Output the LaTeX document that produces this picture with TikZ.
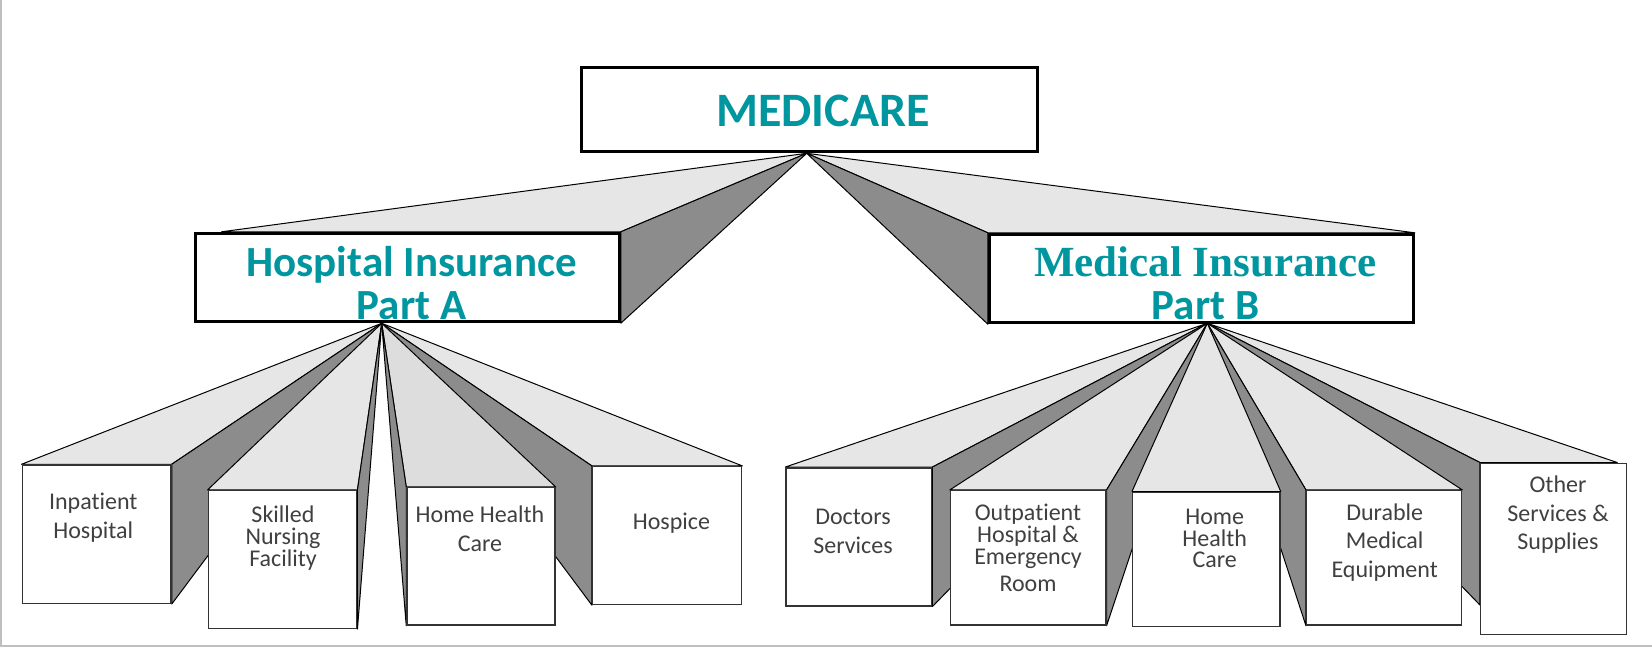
\documentclass[tikz,border=0pt]{standalone}
\usepackage{fontspec}
\setmainfont{Carlito}[Ligatures=CommonOff]
\newfontfamily\timesfont{Liberation Serif}
\usepackage{tikz}
\usetikzlibrary{calc, backgrounds}

\definecolor{medteal}{HTML}{00969F}
\definecolor{facelight}{HTML}{E6E6E6}
\definecolor{facemid}{HTML}{DDDDDD}
\definecolor{facedark}{HTML}{8C8C8C}
\definecolor{boxtext}{HTML}{404040}

\begin{document}
\begin{tikzpicture}[x=0.5pt, y=-0.5pt,
  mainbox/.style={draw, line width=1.5pt, fill=white, inner sep=0pt},
  subbox/.style={draw=black!80, line width=0.75pt, fill=white, inner sep=0pt},
  title/.style={text=medteal, font=\bfseries\fontsize{21.5}{21.7}\selectfont, align=center, inner sep=0pt},
  item/.style={text=boxtext, font=\fontsize{12}{14.5}\selectfont, align=center, inner sep=0pt},
  topface/.style={fill=facelight, draw=black, line width=0.5pt, line join=round},
  sideface/.style={fill=facedark, draw=black, line width=0.5pt, line join=round}]
\useasboundingbox (0,0) rectangle (1652,647);
\draw[black!25, line width=1pt] (0.5,0) -- (0.5,646) -- (1652,646);

% vanishing points under each parent box
\coordinate (vmed) at (806.7,153.3);
\coordinate (va) at (381.7,323.3);
\coordinate (vb) at (1207.3,323.3);

% top level
\node[mainbox, minimum width=227.8pt, minimum height=42.15pt] (medicare) at (809.5,109.55) {};
\node[title, font=\bfseries\fontsize{24}{24}\selectfont] (medicaretext) at (823,110.6) {MEDICARE};
\node[mainbox, minimum width=212.15pt, minimum height=44.2pt] (parta) at (407.15,277.5) {};
\node[title] (partatext) at (411.5,283.2) {Hospital Insurance\\Part A};
\node[mainbox, minimum width=212pt, minimum height=44.2pt] (partb) at (1201.3,278.5) {};
\node[title] (partbtext) at (1205.5,283.2) {{\timesfont Medical Insurance}\\Part B};

% part A services
\node[subbox, minimum width=74.35pt, minimum height=69.15pt] (a1) at (96.65,534.15) {};
\node[subbox, minimum width=74.2pt, minimum height=68.8pt] (a2) at (282.5,559.5) {};
\node[subbox, minimum width=74pt, minimum height=68.65pt] (a3) at (481,556.35) {};
\node[subbox, minimum width=74.5pt, minimum height=68.9pt] (a4) at (667.2,535.6) {};
\node[item] (a1text) at (93.3,517.7) {Inpatient\\Hospital};
\node[item, font=\fontsize{12}{11}\selectfont] (a2text) at (283,538) {Skilled\\Nursing\\Facility};
\node[item] (a3text) at (480,529) {Home Health\\Care};
\node[item] (a4text) at (671.4,523) {Hospice};

% part B services
\node[subbox, minimum width=72.85pt, minimum height=69pt] (b1) at (858.85,536.8) {};
\node[subbox, minimum width=77.65pt, minimum height=67.15pt] (b2) at (1028.15,557.85) {};
\node[subbox, minimum width=73.65pt, minimum height=67.2pt] (b3) at (1206.35,559.5) {};
\node[subbox, minimum width=77.45pt, minimum height=67.15pt] (b4) at (1384.15,557.85) {};
\node[subbox, minimum width=72.95pt, minimum height=85.5pt] (b5) at (1553.65,548.8) {};
\node[item] (b1text) at (853,531.5) {Doctors\\Services};
\node[item, font=\fontsize{12}{11}\selectfont] (b2text) at (1028,548) {Outpatient\\Hospital \&\\Emergency\\[2.7pt]Room};
\node[item, font=\fontsize{12}{10.85}\selectfont] (b3text) at (1214.7,538.4) {Home\\Health\\Care};
\node[item, font=\fontsize{12}{14.15}\selectfont] (b4text) at (1384.7,542.4) {Durable\\Medical\\Equipment};
\node[item, font=\fontsize{12}{14.15}\selectfont] (b5text) at (1558,514.7) {Other\\Services \&\\Supplies};

\begin{scope}[on background layer]
% extrusions of the two parts
\filldraw[topface] ($(parta.north west)+(28,0)$) -- (vmed) -- (parta.north east) -- cycle;
\filldraw[sideface] (parta.north east) -- (vmed) -- (parta.south east) -- cycle;
\filldraw[topface] (partb.north west) -- (vmed) -- (partb.north east) -- cycle;
\filldraw[sideface] (partb.north west) -- (vmed) -- (partb.south west) -- cycle;

% part A, outer boxes first
\filldraw[topface] (a1.north west) -- (va) -- (a1.north east) -- cycle;
\filldraw[sideface] (a1.north east) -- (va) -- (a1.south east) -- cycle;
\filldraw[topface] (a4.north east) -- (va) -- (a4.north west) -- cycle;
\filldraw[sideface] (a4.north west) -- (va) -- (a4.south west) -- cycle;
\filldraw[topface] (a2.north west) -- (va) -- (a2.north east) -- cycle;
\filldraw[sideface] (a2.north east) -- (va) -- (a2.south east) -- cycle;
\filldraw[topface, fill=facemid] (a3.north west) -- (va) -- (a3.north east) -- cycle;
\filldraw[sideface] (a3.north west) -- (va) -- (a3.south west) -- cycle;

% part B, outer boxes first
\filldraw[topface] (b1.north west) -- (vb) -- (b1.north east) -- cycle;
\filldraw[sideface] (b1.north east) -- (vb) -- (b1.south east) -- cycle;
\filldraw[topface] (b5.north west) -- (vb) -- ($(b5.north east)+(-10,0)$) -- cycle;
\filldraw[sideface] (b5.north west) -- (vb) -- ($(b5.south west)+(0,-30)$) -- cycle;
\filldraw[topface] (b2.north west) -- (vb) -- (b2.north east) -- cycle;
\filldraw[sideface] (b2.north east) -- (vb) -- (b2.south east) -- cycle;
\filldraw[topface] (b4.north east) -- (vb) -- (b4.north west) -- cycle;
\filldraw[sideface] (b4.north west) -- (vb) -- (b4.south west) -- cycle;
\filldraw[topface] (b3.north west) -- (vb) -- (b3.north east) -- cycle;
\end{scope}
\end{tikzpicture}
\end{document}
